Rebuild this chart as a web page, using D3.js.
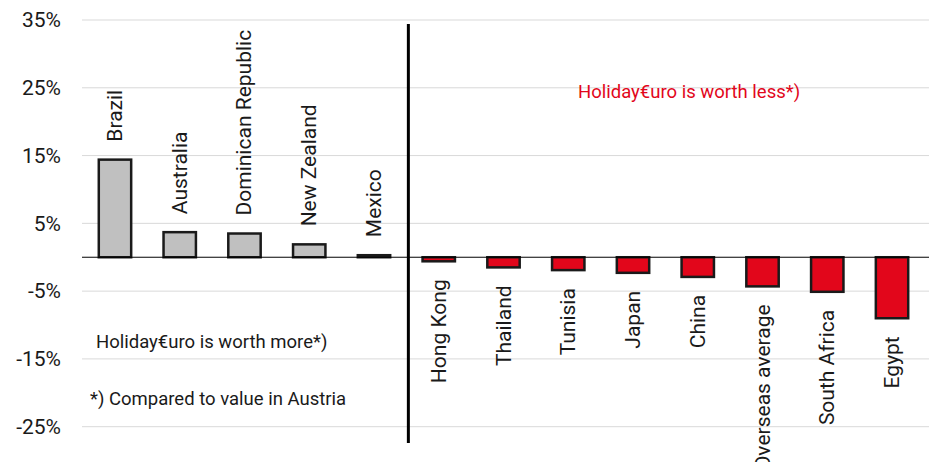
<!DOCTYPE html>
<html>
<head>
<meta charset="utf-8">
<script src="https://cdn.jsdelivr.net/npm/d3@7"></script>
<style>
  body { margin: 0; background: #fff; }
  text { font-family: Roboto, "DejaVu Sans", sans-serif; fill: #1a1a1a; }
</style>
</head>
<body>
<svg id="chart" width="929" height="462"></svg>
<script>
const categories = ["Brazil", "Australia", "Dominican Republic", "New Zealand", "Mexico",
  "Hong Kong", "Thailand", "Tunisia", "Japan", "China", "Overseas average", "South Africa", "Egypt"];
const values = [14.4, 3.7, 3.5, 1.9, 0.3, -0.6, -1.5, -1.9, -2.3, -2.9, -4.3, -5.1, -9.0];
const yTicks = [35, 25, 15, 5, -5, -15, -25];

const data = categories.map((c, i) => ({ name: c, value: values[i] }));

function drawChart() {
  const svg = d3.select("#chart");
  const width = +svg.attr("width");

  const x = d3.scaleBand()
    .domain(categories)
    .range([82.6, 924.4])
    .paddingInner(0.5)
    .paddingOuter(0.25);

  const y = d3.scaleLinear()
    .domain([-25, 35])
    .range([426.7, 20]);

  // gridlines + tick labels
  const axis = svg.append("g")
    .call(d3.axisLeft(y).tickValues(yTicks).tickSize(0).tickFormat(d => d + "%"))
    .attr("transform", "translate(61,0)");
  axis.select(".domain").remove();
  axis.selectAll("text")
    .attr("x", 0)
    .style("font-size", "21px")
    .style("font-family", "Roboto, sans-serif")
    .attr("fill", "#1a1a1a");

  svg.append("g")
    .selectAll("line")
    .data(yTicks)
    .enter()
    .append("line")
    .attr("x1", 82)
    .attr("x2", width)
    .attr("y1", d => y(d))
    .attr("y2", d => y(d))
    .attr("stroke", "#d9d9d9")
    .attr("stroke-width", 1);

  // bars
  svg.append("g")
    .selectAll("rect")
    .data(data)
    .enter()
    .append("rect")
    .attr("x", d => x(d.name))
    .attr("width", x.bandwidth())
    .attr("y", d => y(Math.max(0, d.value)))
    .attr("height", d => Math.abs(y(d.value) - y(0)))
    .attr("fill", d => d.value >= 0 ? "#c0c0c0" : "#e2061b")
    .attr("stroke", "#1a1a1a")
    .attr("stroke-width", 2.5);

  // zero line
  svg.append("line")
    .attr("x1", 82)
    .attr("x2", width)
    .attr("y1", y(0))
    .attr("y2", y(0))
    .attr("stroke", "#000")
    .attr("stroke-width", 1);

  // category labels, rotated
  svg.append("g")
    .selectAll("text")
    .data(data)
    .enter()
    .append("text")
    .attr("transform", d => {
      const cx = x(d.name) + x.bandwidth() / 2 + 7;
      const ty = d.value >= 0 ? y(d.value) - 18 : y(d.value) + 18;
      return `translate(${cx},${ty}) rotate(-90)`;
    })
    .attr("text-anchor", d => d.value >= 0 ? "start" : "end")
    .style("font-size", "21px")
    .text(d => d.name);

  // separator between "more" and "less"
  const sepX = (x("Mexico") + x.bandwidth() + x("Hong Kong")) / 2 + 2;
  svg.append("line")
    .attr("x1", sepX)
    .attr("x2", sepX)
    .attr("y1", y(34.4))
    .attr("y2", y(-27.4))
    .attr("stroke", "#000")
    .attr("stroke-width", 3);

  // annotations
  svg.append("text")
    .attr("x", 578)
    .attr("y", 98)
    .style("font-size", "18.5px")
    .style("fill", "#e2061b")
    .text("Holiday€uro is worth less*)");

  svg.append("text")
    .attr("x", 96)
    .attr("y", 348)
    .style("font-size", "18.5px")
    .text("Holiday€uro is worth more*)");

  svg.append("text")
    .attr("x", 90)
    .attr("y", 405)
    .style("font-size", "18.5px")
    .text("*) Compared to value in Austria");
}

drawChart();
</script>
</body>
</html>
